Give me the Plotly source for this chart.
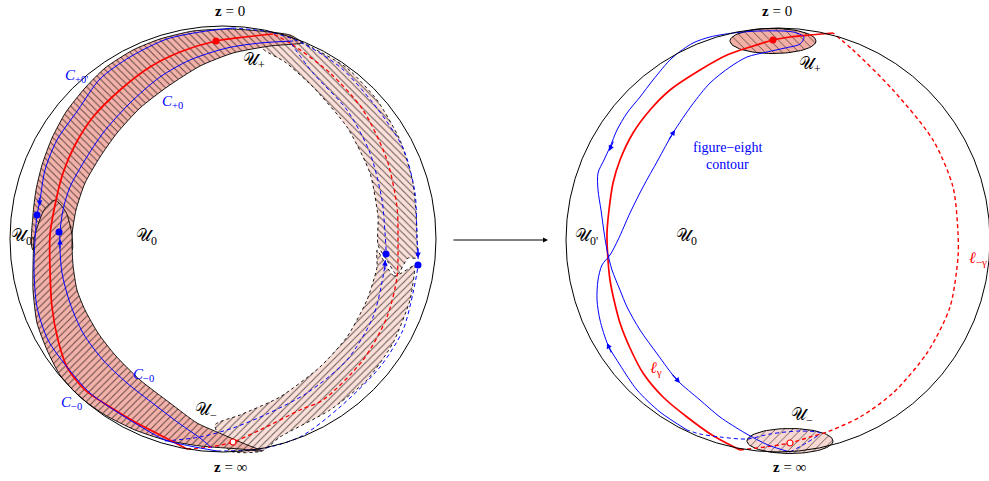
import numpy as np
import plotly.graph_objects as go

# ---------------- data: control points (pixel space) ----------------
# Left picture
L_circle = [223, 239, 213]
band_up_outer_x = [302, 290, 260, 230, 193, 160, 133, 105, 85, 66, 52, 42, 36, 33, 33]
band_up_outer_y = [42, 35, 31, 29, 31, 39, 50, 68, 88, 112, 138, 165, 190, 215, 250]
band_up_inner_x = [72, 72, 76, 85, 100, 117, 140, 167, 200, 233, 270, 303]
band_up_inner_y = [250, 235, 210, 183, 157, 133, 108, 87, 66, 53, 46, 43]

band_lo_x = [37, 44, 55, 66, 72, 72, 73, 77, 85, 98, 115, 140, 170, 197, 217, 245, 262,
             240, 200, 165, 135, 105, 80, 60, 47, 37, 33, 33, 34]
band_lo_y = [228, 210, 200, 212, 235, 245, 265, 290, 310, 333, 355, 380, 403, 423, 432, 444, 451,
             449, 446, 440, 430, 415, 397, 375, 350, 323, 290, 267, 240]

light_up_x = [262, 290, 313, 347, 377, 400, 413, 417, 416, 408, 397, 388, 378, 378, 370, 347, 313, 285, 262]
light_up_y = [34, 37, 48, 68, 100, 140, 183, 233, 258, 258, 275, 262, 245, 217, 173, 127, 87, 62, 48]
light_lo_x = [377, 394, 415, 415, 410, 393, 367, 330, 280, 262, 230, 215, 240, 280, 320, 347, 367, 377]
light_lo_y = [250, 276, 265, 268, 300, 343, 380, 410, 437, 451, 451, 425, 415, 397, 367, 337, 300, 267]

red_L_x = [273, 245, 216, 180, 150, 120, 93, 75, 63, 55, 50, 50, 52, 58, 67, 85, 110, 135, 160, 187]
red_L_y = [34, 37, 41, 52, 67, 90, 117, 145, 173, 205, 235, 270, 307, 340, 367, 390, 407, 422, 435, 449]
red_L_dash_x = [187, 210, 233, 260, 300, 323, 363, 387, 397, 398, 397, 387, 363, 330, 290, 273]
red_L_dash_y = [449, 447, 442, 430, 410, 400, 360, 317, 277, 240, 207, 160, 110, 73, 43, 34]

blue_out_x = [233, 200, 167, 130, 100, 78, 57, 45, 40, 37, 35, 34, 37, 48, 67, 90, 117, 143, 165, 190, 217]
blue_out_y = [28, 32, 39, 57, 79, 110, 140, 170, 200, 215, 240, 270, 307, 340, 367, 393, 412, 428, 440, 446, 451]
blue_out_dash_x = [217, 260, 300, 340, 380, 403, 413, 418, 418, 417, 415, 403, 373, 340, 300, 270, 233]
blue_out_dash_y = [451, 449, 437, 407, 367, 330, 293, 265, 252, 240, 193, 148, 103, 67, 42, 32, 28]
blue_in_x = [293, 260, 227, 190, 160, 130, 103, 85, 70, 63, 60, 60, 62, 70, 83, 103, 127, 155, 180, 200, 212]
blue_in_y = [41, 43, 48, 60, 77, 103, 133, 160, 187, 210, 232, 250, 273, 303, 333, 360, 383, 405, 424, 438, 448]
blue_in_dash_x = [165, 200, 233, 267, 307, 347, 373, 383, 386, 385, 382, 370, 347, 313, 290]
blue_in_dash_y = [441, 437, 428, 414, 393, 360, 317, 277, 254, 233, 200, 153, 110, 73, 42]

# Right picture
R_circle = [778, 240, 212]
Uplus_ellipse = [773, 41, 43, 12.5]
Uminus_ellipse = [790, 441, 43, 12.5]

red_R_x = [833, 810, 790, 773, 750, 727, 700, 670, 650, 633, 620, 613, 609, 607, 608, 610, 614,
           620, 630, 643, 663, 687, 712, 740]
red_R_y = [33, 35, 37, 40, 47, 55, 70, 90, 110, 133, 160, 183, 210, 233, 260, 280, 300,
           323, 348, 373, 397, 417, 435, 450]
red_R_dash_x = [740, 765, 790, 810, 827, 860, 893, 927, 950, 958, 958, 953, 933, 893, 853, 833]
red_R_dash_y = [450, 447, 443, 437, 432, 417, 393, 353, 307, 257, 233, 187, 140, 90, 50, 33]

eight_x = [687, 660, 637, 620, 608, 600, 597, 598, 602, 610, 618, 630, 643, 658, 673, 692, 710, 730,
           747, 767, 785, 800, 804, 793, 760, 733, 710, 693, 672, 653, 640, 627, 617, 610, 604, 598,
           598, 601, 604, 607, 612, 620, 627, 640, 658, 677, 700, 720, 745, 768, 790]
eight_y = [430, 412, 390, 365, 345, 320, 300, 280, 265, 255, 240, 213, 187, 160, 133, 105, 83, 67,
           57, 52, 48, 44, 37, 32, 31, 33, 37, 43, 58, 80, 97, 113, 130, 147, 160, 173,
           190, 210, 232, 250, 270, 290, 307, 330, 355, 380, 400, 417, 433, 445, 452]
eight_dash_x = [790, 808, 820, 800, 770, 747, 720, 700, 687]
eight_dash_y = [452, 442, 433, 431, 434, 439, 437, 434, 430]

# markers
dots_blue_x = [37, 59, 386, 418]
dots_blue_y = [215, 232, 254, 265]
dots_red_x = [216, 773]
dots_red_y = [41, 40]
open_red_x = [233, 790]
open_red_y = [442, 443]

# arrowheads: (tip_x, tip_y, tail_x, tail_y)
arrows = [
    (40, 206, 39, 196), (60, 239, 60, 250), (385, 260, 385, 271), (418, 258, 418, 247),
    (675, 130, 668, 141), (609, 151, 614, 140), (607, 343, 612, 354), (680, 383, 671, 373),
]

FONT = "Liberation Serif, DejaVu Serif, serif"
BAND_DARK = "#F3B2A9"
BAND_LIGHT = "#FBDFD9"
SHORT_DASH = "4px,3px"

fig = go.Figure()


def poly(xs, ys, bg, shape, dash="solid", lw=0.9):
    fig.add_trace(go.Scatter(
        x=xs + xs[:1], y=ys + ys[:1], mode="lines", fill="toself",
        line=dict(color="black", width=lw, dash=dash, shape="spline", smoothing=0.6),
        fillcolor=bg,
        fillpattern=dict(shape=shape, bgcolor=bg, fgcolor="black", fgopacity=0.6, size=5, solidity=0.2),
        hoverinfo="skip", showlegend=False))


def curve(xs, ys, color, dash="solid", width=1.2):
    fig.add_trace(go.Scatter(
        x=xs, y=ys, mode="lines",
        line=dict(color=color, width=width, dash=dash, shape="spline", smoothing=0.8),
        hoverinfo="skip", showlegend=False))


def ellipse(params, bg, shape):
    cx, cy, rx, ry = params
    t = np.linspace(0, 2 * np.pi, 80)
    fig.add_trace(go.Scatter(
        x=cx + rx * np.cos(t), y=cy + ry * np.sin(t), mode="lines", fill="toself",
        line=dict(color="black", width=1),
        fillcolor=bg,
        fillpattern=dict(shape=shape, bgcolor=bg, fgcolor="black", fgopacity=0.6, size=6, solidity=0.15),
        hoverinfo="skip", showlegend=False))


# light (back side) band
poly(light_up_x, light_up_y, BAND_LIGHT, "\\", dash="dot")
poly(light_lo_x, light_lo_y, BAND_LIGHT, "/", dash="dot")
# dark (front) band
poly(band_up_outer_x + band_up_inner_x, band_up_outer_y + band_up_inner_y, BAND_DARK, "\\")
poly(band_lo_x, band_lo_y, BAND_DARK, "/")

# dashed curves (back side)
curve(red_L_dash_x, red_L_dash_y, "red", dash=SHORT_DASH, width=1.3)
curve(blue_out_dash_x, blue_out_dash_y, "blue", dash=SHORT_DASH, width=1)
curve(blue_in_dash_x, blue_in_dash_y, "blue", dash=SHORT_DASH, width=1)
# solid curves (front)
curve(red_L_x, red_L_y, "red", width=1.7)
curve(blue_out_x, blue_out_y, "blue", width=1)
curve(blue_in_x, blue_in_y, "blue", width=1)

# right picture
ellipse(Uplus_ellipse, "#F2AFA6", "\\")
ellipse(Uminus_ellipse, "#F8D8D2", "/")
curve(red_R_dash_x, red_R_dash_y, "red", dash=SHORT_DASH, width=1.4)
curve(red_R_x, red_R_y, "red", width=1.7)
curve(eight_x, eight_y, "blue", width=1)
curve(eight_dash_x, eight_dash_y, "blue", dash=SHORT_DASH, width=1)

# markers
fig.add_trace(go.Scatter(x=dots_blue_x, y=dots_blue_y, mode="markers",
                         marker=dict(color="blue", size=7), hoverinfo="skip", showlegend=False))
fig.add_trace(go.Scatter(x=dots_red_x, y=dots_red_y, mode="markers",
                         marker=dict(color="red", size=7), hoverinfo="skip", showlegend=False))
fig.add_trace(go.Scatter(x=open_red_x, y=open_red_y, mode="markers",
                         marker=dict(color="white", size=6, line=dict(color="red", width=1.2)),
                         hoverinfo="skip", showlegend=False))

# circles
for c in (L_circle, R_circle):
    fig.add_shape(type="circle", x0=c[0] - c[2], x1=c[0] + c[2], y0=c[1] - c[2], y1=c[1] + c[2],
                  line=dict(color="black", width=1), layer="above")

# arrowheads
for tx, ty, ax_, ay_ in arrows:
    fig.add_annotation(x=tx, y=ty, ax=ax_, ay=ay_, xref="x", yref="y", axref="x", ayref="y",
                       text="", showarrow=True, arrowhead=2, arrowsize=1, arrowwidth=1.1,
                       arrowcolor="blue")
# main arrow
fig.add_annotation(x=548, y=240, ax=452, ay=240, xref="x", yref="y", axref="x", ayref="y",
                   text="", showarrow=True, arrowhead=2, arrowsize=1, arrowwidth=1, arrowcolor="black")

labels = [
    (230, 11, "<b>z</b> = 0", "black", 15, "center"),
    (777, 11, "<b>z</b> = 0", "black", 15, "center"),
    (230, 467, "<b>z</b> = ∞", "black", 15, "center"),
    (789, 467, "<b>z</b> = ∞", "black", 15, "center"),
    (76, 76, "<i>C</i><sub>+0'</sub>", "blue", 15, "center"),
    (172, 102, "<i>C</i><sub>+0</sub>", "blue", 15, "center"),
    (143, 375, "<i>C</i><sub>−0</sub>", "blue", 15, "center"),
    (71, 403, "<i>C</i><sub>−0</sub>", "blue", 15, "center"),
    (254, 61, "𝒰<sub>+</sub>", "black", 17, "center"),
    (22, 237, "𝒰<sub>0'</sub>", "black", 17, "center"),
    (146, 237, "𝒰<sub>0</sub>", "black", 17, "center"),
    (206, 411, "𝒰<sub>−</sub>", "black", 17, "center"),
    (810, 65, "𝒰<sub>+</sub>", "black", 17, "center"),
    (586, 237, "𝒰<sub>0'</sub>", "black", 17, "center"),
    (686, 237, "𝒰<sub>0</sub>", "black", 17, "center"),
    (802, 416, "𝒰<sub>−</sub>", "black", 17, "center"),
    (727, 147, "figure−eight", "blue", 14, "center"),
    (727, 164, "contour", "blue", 14, "center"),
    (656, 368, "<i>ℓ</i><sub>γ</sub>", "red", 16, "center"),
    (989, 258, "<i>ℓ</i><sub>−γ</sub>", "red", 16, "right"),
]
for x, y, t, col, sz, xa in labels:
    fig.add_annotation(x=x, y=y, text=t, showarrow=False, xref="x", yref="y", xanchor=xa,
                       font=dict(family=FONT, size=sz, color=col))

fig.update_layout(
    width=989, height=481, margin=dict(l=0, r=0, t=0, b=0),
    paper_bgcolor="white", plot_bgcolor="white",
    xaxis=dict(range=[0, 989], visible=False, fixedrange=True),
    yaxis=dict(range=[481, 0], visible=False, fixedrange=True),
)
fig.write_html("out.html", config={"displayModeBar": False, "staticPlot": True})

# remove the default page margin so the figure sits at the window's top-left corner
with open("out.html", encoding="utf-8") as fh:
    html = fh.read()
html = html.replace("<head>", "<head><style>html,body{margin:0;padding:0;overflow:hidden;}</style>", 1)
with open("out.html", "w", encoding="utf-8") as fh:
    fh.write(html)
